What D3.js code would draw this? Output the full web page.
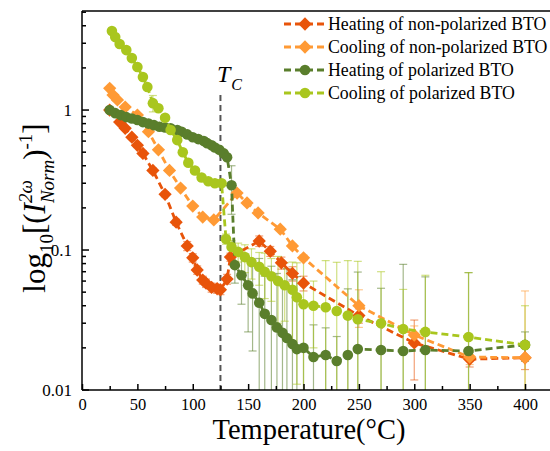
<!DOCTYPE html>
<html>
<head>
<meta charset="utf-8">
<script src="https://cdn.jsdelivr.net/npm/d3@7"></script>
<style>
  html, body { margin: 0; padding: 0; background: #fff; }
  svg { display: block; }
</style>
</head>
<body>
<div id="chart"></div>
<script>
// Heating of non-polarized BTO
const tempHN = [25, 34, 39, 45, 50, 55, 64, 75, 85, 95, 100, 104, 109, 112, 117, 122, 125, 131, 134, 160, 170, 180, 190, 200, 250, 300, 350, 400];
const valHN  = [1.0, 0.82, 0.74, 0.64, 0.56, 0.49, 0.37, 0.25, 0.158, 0.107, 0.088, 0.072, 0.061, 0.058, 0.054, 0.053, 0.052, 0.062, 0.089, 0.116, 0.098, 0.081, 0.068, 0.058, 0.034, 0.0217, 0.0166, 0.017];
const errHN  = [0.03, 0.02, 0.02, 0.02, 0.02, 0.02, 0.015, 0.01, 0.008, 0.008, 0.006, 0.005, 0.004, 0.004, 0.004, 0.004, 0.004, 0.005, 0.006, 0.01, 0.008, 0.008, 0.008, 0.007, 0.004, 0.0099, 0.002, 0.003];

// Cooling of non-polarized BTO
const tempCN = [25, 28, 32, 39, 50, 60, 69, 79, 89, 100, 109, 119, 140, 149, 159, 179, 190, 200, 250, 300, 350, 400];
const valCN  = [1.43, 1.28, 1.18, 1.05, 0.92, 0.70, 0.52, 0.37, 0.277, 0.206, 0.172, 0.164, 0.255, 0.217, 0.184, 0.141, 0.107, 0.088, 0.040, 0.0247, 0.0172, 0.017];
const errCN  = [0.03, 0.03, 0.02, 0.02, 0.02, 0.015, 0.01, 0.008, 0.006, 0.005, 0.004, 0.004, 0.006, 0.005, 0.005, 0.004, 0.004, 0.004, 0.012, 0.004, 0.002, 0.034];

// Heating of polarized BTO
const tempHP = [25, 30, 35, 40, 45, 50, 55, 60, 65, 70, 75, 80, 86, 90, 95, 100, 105, 110, 113, 117, 120, 124, 128, 131, 135, 138, 144, 150, 154, 160, 165, 171, 176, 181, 185, 190, 194, 200, 209, 220, 230, 240, 249, 270, 290, 310, 349, 400];
const valHP  = [1.0, 0.95, 0.92, 0.89, 0.87, 0.85, 0.82, 0.80, 0.78, 0.76, 0.75, 0.74, 0.72, 0.70, 0.67, 0.64, 0.62, 0.60, 0.58, 0.56, 0.54, 0.52, 0.49, 0.46, 0.29, 0.078, 0.066, 0.056, 0.049, 0.042, 0.035, 0.0316, 0.028, 0.0256, 0.0235, 0.0213, 0.0196, 0.020, 0.0172, 0.0178, 0.0161, 0.0178, 0.0196, 0.0193, 0.019, 0.0193, 0.019, 0.021];
const errHP  = [0.01, 0.01, 0.01, 0.01, 0.01, 0.01, 0.01, 0.01, 0.01, 0.01, 0.01, 0.01, 0.01, 0.01, 0.01, 0.01, 0.01, 0.01, 0.01, 0.01, 0.01, 0.01, 0.01, 0.01, 0.11, 0.02, 0.025, 0.03, 0.03, 0.045, 0.03, 0.045, 0.04, 0.03, 0.05, 0.04, 0.045, 0.02, 0.012, 0.01, 0.008, 0.035, 0.05, 0.034, 0.06, 0.045, 0.05, 0.005];

// Cooling of polarized BTO
const tempCP = [27, 30, 34, 40, 45, 50, 55, 59, 64, 69, 75, 80, 86, 91, 96, 102, 108, 114, 120, 126, 130, 135, 141, 147, 153, 160, 165, 171, 177, 183, 190, 194, 200, 209, 220, 230, 240, 249, 270, 290, 310, 349, 400];
const valCP  = [3.67, 3.32, 2.96, 2.68, 2.35, 2.03, 1.72, 1.46, 1.12, 1.03, 0.88, 0.72, 0.61, 0.50, 0.42, 0.37, 0.33, 0.31, 0.30, 0.30, 0.12, 0.105, 0.097, 0.089, 0.082, 0.076, 0.070, 0.065, 0.060, 0.056, 0.052, 0.046, 0.041, 0.040, 0.039, 0.0367, 0.034, 0.032, 0.030, 0.0273, 0.026, 0.0239, 0.021];
const errCP  = [0.05, 0.05, 0.05, 0.05, 0.04, 0.04, 0.04, 0.04, 0.15, 0.03, 0.02, 0.02, 0.02, 0.02, 0.015, 0.01, 0.01, 0.01, 0.01, 0.01, 0.01, 0.012, 0.015, 0.02, 0.02, 0.02, 0.025, 0.022, 0.03, 0.025, 0.03, 0.035, 0.045, 0.02, 0.045, 0.045, 0.05, 0.051, 0.04, 0.025, 0.04, 0.045, 0.019];

const seriesNames = ["Heating of non-polarized BTO", "Cooling of non-polarized BTO", "Heating of polarized BTO", "Cooling of polarized BTO"];
const xTicks = [0, 50, 100, 150, 200, 250, 300, 350, 400];
const yTicks = [0.01, 0.1, 1];
const tcTemp = 125;

const series = [
  { name: seriesNames[0], t: tempHN, v: valHN, e: errHN, color: "#e8540a", shape: "diamond" },
  { name: seriesNames[1], t: tempCN, v: valCN, e: errCN, color: "#ff9a35", shape: "diamond" },
  { name: seriesNames[2], t: tempHP, v: valHP, e: errHP, color: "#5a7e2c", shape: "circle" },
  { name: seriesNames[3], t: tempCP, v: valCP, e: errCP, color: "#a9c61e", shape: "circle" }
];

const FONT = '"Liberation Serif", "Times New Roman", Times, "DejaVu Serif", serif';
const W = 550, H = 451;
const x = d3.scaleLinear().domain([0, 422]).range([82, 549.4]);
const y = d3.scaleLog().domain([0.01, 5.1]).range([390, 11]);

const svg = d3.select("#chart").append("svg")
  .attr("width", W).attr("height", H)
  .attr("viewBox", [0, 0, W, H]);

const diamond = d3.symbol().type(d3.symbolSquare).size(88);
const circle = d3.symbol().type(d3.symbolCircle).size(88);

// error bars first
series.forEach(s => {
  const g = svg.append("g").attr("stroke", s.color).attr("stroke-opacity", 0.55).attr("stroke-width", 1.2);
  s.t.forEach((t, i) => {
    const v = s.v[i], e = s.e[i];
    const top = y(v + e);
    const lo = v - e > 0.01 ? y(v - e) : y(0.01);
    const cx = x(t);
    g.append("line").attr("x1", cx).attr("x2", cx).attr("y1", top).attr("y2", lo);
    g.append("line").attr("x1", cx - 4).attr("x2", cx + 4).attr("y1", top).attr("y2", top);
    if (v - e > 0.01) g.append("line").attr("x1", cx - 4).attr("x2", cx + 4).attr("y1", lo).attr("y2", lo);
  });
});

// Tc dashed line
svg.append("line")
  .attr("x1", x(tcTemp)).attr("x2", x(tcTemp))
  .attr("y1", 95).attr("y2", 390)
  .attr("stroke", "#555").attr("stroke-width", 2).attr("stroke-dasharray", "6,4");

const line = d3.line().x(d => x(d[0])).y(d => y(d[1]));

series.forEach(s => {
  const pts = s.t.map((t, i) => [t, s.v[i]]);
  svg.append("path")
    .attr("d", line(pts))
    .attr("fill", "none")
    .attr("stroke", s.color)
    .attr("stroke-width", 2.8)
    .attr("stroke-dasharray", "7,4");
  svg.append("g").selectAll("path")
    .data(pts)
    .join("path")
    .attr("d", s.shape === "diamond" ? diamond : circle)
    .attr("transform", d => `translate(${x(d[0])},${y(d[1])})` + (s.shape === "diamond" ? " rotate(45)" : ""))
    .attr("fill", s.color);
});

// axes
const axisColor = "#000";
svg.append("line").attr("x1", 82).attr("x2", 82).attr("y1", 11).attr("y2", 390).attr("stroke", axisColor).attr("stroke-width", 1.5);
svg.append("line").attr("x1", 82).attr("x2", 550).attr("y1", 390).attr("y2", 390).attr("stroke", axisColor).attr("stroke-width", 1.5);
svg.append("line").attr("x1", 82).attr("x2", 550).attr("y1", 11).attr("y2", 11).attr("stroke", axisColor).attr("stroke-width", 1.5);

const xAxis = d3.axisBottom(x).tickValues(d3.range(0, 425, 25)).tickSize(0).tickFormat("");
const gx = svg.append("g").attr("transform", "translate(0,390)").call(xAxis);
gx.select(".domain").remove();
gx.selectAll(".tick line").remove();
gx.selectAll(".tick").append("line")
  .attr("y1", 0).attr("y2", d => d % 50 === 0 ? -6 : -4)
  .attr("stroke", axisColor).attr("stroke-width", 1.5);
gx.selectAll(".tick").filter(d => xTicks.includes(d)).append("text")
  .attr("y", 20).attr("text-anchor", "middle").attr("fill", "#000")
  .style("font-family", FONT).style("font-size", "16.5px").text(d => d);

const minorY = [];
[0.01, 0.1, 1].forEach(b => { for (let k = 1; k <= 9; k++) if (b * k <= 5.1) minorY.push(+(b * k).toPrecision(3)); });
const gy = svg.append("g").attr("transform", "translate(82,0)");
gy.selectAll("line").data(minorY).join("line")
  .attr("x1", 0).attr("x2", d => yTicks.includes(d) ? 7 : 4)
  .attr("y1", d => y(d)).attr("y2", d => y(d))
  .attr("stroke", axisColor).attr("stroke-width", 1.5);
gy.selectAll("text").data(yTicks).join("text")
  .attr("x", -10).attr("y", d => y(d)).attr("dy", "0.35em")
  .attr("text-anchor", "end").attr("fill", "#000")
  .style("font-family", FONT).style("font-size", "17px").text(d => d3.format("~g")(d));

// x title
svg.append("text").attr("x", 309).attr("y", 439).attr("text-anchor", "middle")
  .style("font-family", FONT).style("font-size", "28.5px").text("Temperature(°C)");

// y title built from pieces
const yl = svg.append("g");
const pieces = [
  { t: "log", fs: 31, dy: 0 },
  { t: "10", fs: 19, dy: 8 },
  { t: "[(", fs: 31, dy: 0 },
  { t: "I", fs: 31, dy: 0, it: true },
  { stack: [{ t: "2ω", fs: 19, dy: -13, it: true }, { t: "Norm", fs: 19, dy: 9, it: true }] },
  { t: ")", fs: 31, dy: 0 },
  { t: "-1", fs: 19, dy: -13 },
  { t: "]", fs: 31, dy: 0 }
];
let cursor = 0;
function put(p, at) {
  const el = yl.append("text").attr("x", at).attr("y", p.dy)
    .style("font-family", FONT)
    .style("font-size", p.fs + "px").style("font-style", p.it ? "italic" : "normal").text(p.t);
  return el.node().getComputedTextLength();
}
pieces.forEach(p => {
  if (p.stack) {
    const ws = p.stack.map(q => put(q, cursor));
    cursor += d3.max(ws);
  } else {
    cursor += put(p, cursor);
  }
});
yl.attr("transform", `translate(45,208) rotate(-90) translate(${-cursor / 2},0)`);

// Tc label
const tc = svg.append("text").attr("x", 217).attr("y", 82)
  .style("font-family", FONT).style("font-style", "italic");
tc.append("tspan").style("font-size", "24px").text("T");
tc.append("tspan").attr("dy", 8).attr("dx", 1).style("font-size", "16px").text("C");

// legend
const lg = svg.append("g");
series.forEach((s, i) => {
  const cy = 24 + i * 23;
  lg.append("line").attr("x1", 284).attr("x2", 326).attr("y1", cy).attr("y2", cy)
    .attr("stroke", s.color).attr("stroke-width", 2.8).attr("stroke-dasharray", "7,4");
  lg.append("path")
    .attr("d", s.shape === "diamond" ? diamond : circle)
    .attr("transform", `translate(305,${cy})` + (s.shape === "diamond" ? " rotate(45)" : ""))
    .attr("fill", s.color);
  lg.append("text").attr("x", 328).attr("y", cy + 5.5)
    .style("font-family", FONT).style("font-size", "17.8px").text(s.name);
});
</script>
</body>
</html>
